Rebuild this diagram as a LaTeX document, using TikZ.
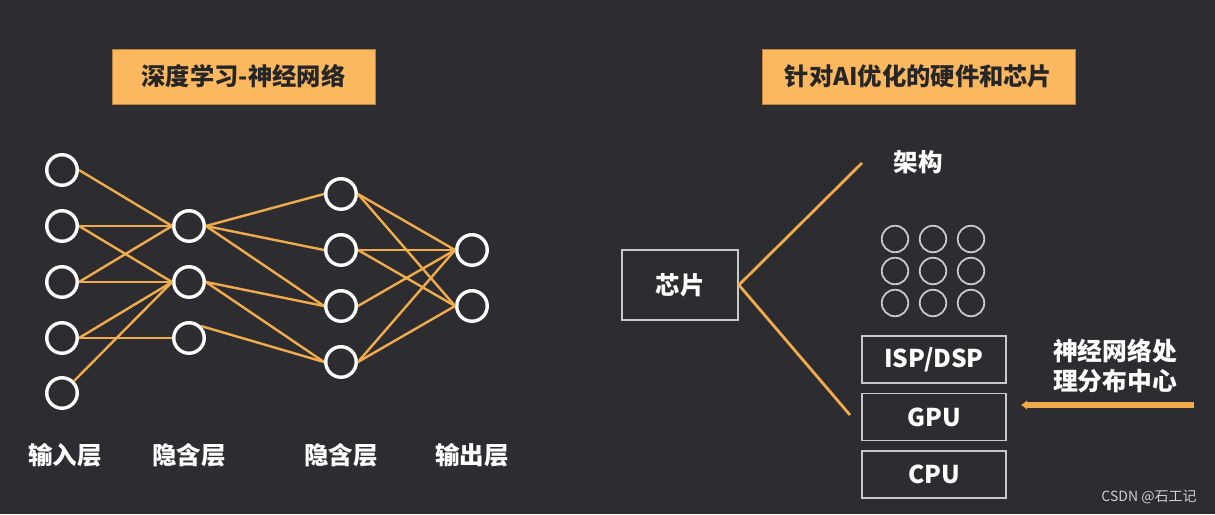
\documentclass[tikz,border=0pt]{standalone}
\usepackage{fontspec}
\setmainfont{Noto Sans CJK SC}
\usetikzlibrary{arrows.meta}
\definecolor{bgc}{RGB}{45,45,49}
\definecolor{orng}{RGB}{252,184,94}
\definecolor{lineo}{RGB}{240,172,76}
\definecolor{boxborder}{RGB}{200,200,200}
\definecolor{titletext}{RGB}{38,38,40}
\definecolor{wm}{RGB}{205,205,205}
\definecolor{tborder}{RGB}{190,130,60}
\tikzset{
  neuron/.style={circle, draw=white, line width=3.4pt, minimum size=30.5pt, inner sep=0pt},
  cell/.style={circle, draw=boxborder, line width=1.8pt, minimum size=26.5pt, inner sep=0pt},
  edge/.style={lineo, line width=2.4pt},
  label/.style={text=white, font=\bfseries\fontsize{24.5}{28}\selectfont, inner sep=0pt},
  titlebox/.style={fill=orng, draw=tborder, line width=0.6pt, text=titletext, font=\bfseries\fontsize{24.3}{28}\selectfont, inner sep=0pt},
  unitbox/.style={draw=boxborder, line width=1.8pt, text=white, font=\bfseries\fontsize{24.5}{28}\selectfont, inner sep=0pt},
}
\begin{document}
\begin{tikzpicture}[x=1pt,y=-1pt]
\fill[bgc] (0,0) rectangle (1215,514);
\useasboundingbox (0,0) rectangle (1215,514);

% titles
\node[titlebox, minimum width=263pt, minimum height=55pt] (t1) at (243.5,76.5) {深度学习-神经网络};
\node[titlebox, minimum width=313pt, minimum height=55pt] (t2) at (918.5,76.5) {针对AI优化的硬件和芯片};

% neural network
\node[neuron] (i1) at (62,170) {};
\node[neuron] (i2) at (62,226) {};
\node[neuron] (i3) at (62,282) {};
\node[neuron] (i4) at (62,338) {};
\node[neuron] (i5) at (62,393) {};
\node[neuron] (a1) at (189,226) {};
\node[neuron] (a2) at (189,282) {};
\node[neuron] (a3) at (189,338) {};
\node[neuron] (b1) at (341,194) {};
\node[neuron] (b2) at (341,250) {};
\node[neuron] (b3) at (341,306) {};
\node[neuron] (b4) at (341,362) {};
\node[neuron] (o1) at (472,250) {};
\node[neuron] (o2) at (472,306) {};

\draw[edge] (i1.east) -- (a1.west);
\draw[edge] (i2.east) -- (a1.west);
\draw[edge] (i2.east) -- (a2.west);
\draw[edge] (i3.east) -- (a1.west);
\draw[edge] (i3.east) -- (a2.west);
\draw[edge] (i4.east) -- (a2.west);
\draw[edge] (i4.east) -- (a3.west);
\draw[edge] (i5.north east) -- (a2.west);
\draw[edge] (a1.east) -- (b1.west);
\draw[edge] (a1.east) -- (b2.west);
\draw[edge] (a1.east) -- (b3.west);
\draw[edge] (a2.east) -- (b3.west);
\draw[edge] (a2.east) -- (b4.west);
\draw[edge] (a3.north east) -- (b4.west);
\draw[edge] (b1.east) -- (o1.west);
\draw[edge] (b1.east) -- (o2.west);
\draw[edge] (b2.east) -- (o1.west);
\draw[edge] (b2.east) -- (o2.west);
\draw[edge] (b3.east) -- (o1.west);
\draw[edge] (b4.east) -- (o1.west);
\draw[edge] (b4.east) -- (o2.west);

\node[label] (l1) at (65,455) {输入层};
\node[label] (l2) at (189,455) {隐含层};
\node[label] (l3) at (341,455) {隐含层};
\node[label] (l4) at (472,455) {输出层};

% chip part
\node[unitbox, minimum width=116pt, minimum height=70pt] (chip) at (680,285) {芯片};
\coordinate (archend) at (862,163);
\coordinate (gpuend) at (850,415);
\draw[edge, line width=2.8pt] (chip.east) -- (archend);
\draw[edge, line width=2.8pt] (chip.east) -- (gpuend);
\node[label] (arch) at (918,162) {架构};

\foreach \c/\x in {1/895,2/933,3/971}{
  \foreach \r/\y in {1/239,2/271,3/303}{
    \node[cell] (g\r\c) at (\x,\y) {};
  }
}

\node[unitbox, minimum width=144pt, minimum height=47pt] (isp) at (934,359.5) {ISP/DSP};
\node[unitbox, minimum width=144pt, minimum height=47pt] (gpu) at (934,417) {GPU};
\node[unitbox, minimum width=144pt, minimum height=47pt] (cpu) at (934,474.5) {CPU};

\node[label, align=center, font=\bfseries\fontsize{24.8}{29.5}\selectfont] (npu) at (1115,366) {神经网络处\\理分布中心};
\coordinate (arrstart) at (1194,405);
\coordinate (arrend) at (1021,405);
\draw[lineo, line width=5.5pt, -{Latex[length=6pt,width=10pt]}] (arrstart) -- (arrend);

\node[text=wm, font=\fontsize{14}{16}\selectfont, inner sep=0pt] (wmark) at (1149,497) {CSDN @石工记};
\end{tikzpicture}
\end{document}
